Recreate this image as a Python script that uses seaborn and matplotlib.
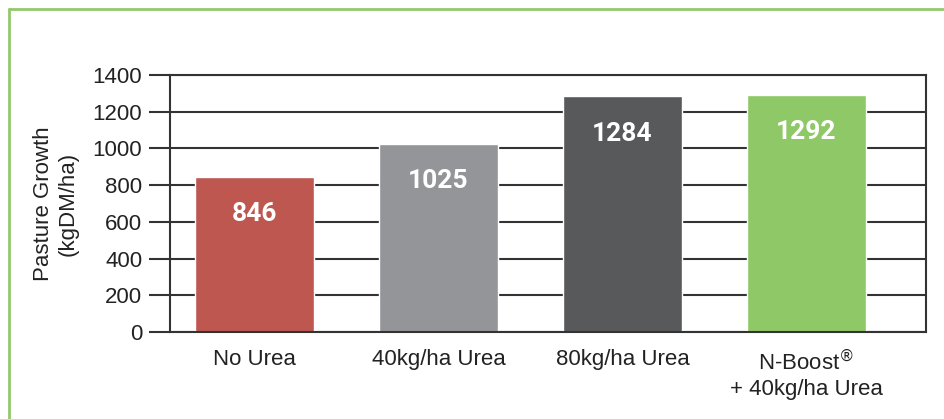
import matplotlib
matplotlib.use("Agg")
import matplotlib.pyplot as plt
import seaborn as sns
import pandas as pd
from matplotlib.lines import Line2D

# Datos
treatments = ["No Urea", "40kg/ha Urea", "80kg/ha Urea", "N-Boost®\n+ 40kg/ha Urea"]
growth = [846, 1025, 1284, 1292]
bar_colors = ["#bf5751", "#939598", "#58595b", "#8fc866"]
y_ticks = [0, 200, 400, 600, 800, 1000, 1200, 1400]

sns.set_theme(style="white")
plt.rcParams['font.family'] = ['Liberation Sans', 'DejaVu Sans']

df = pd.DataFrame({'tratamiento': treatments, 'crecimiento': growth})

fig = plt.figure(figsize=(9.44, 4.19), dpi=100)
ax = fig.add_axes([0.180, 0.2076, 0.801, 0.6134])

sns.barplot(data=df, x='tratamiento', y='crecimiento', hue='tratamiento',
            palette=bar_colors, width=0.65, saturation=1, legend=False, ax=ax)

ax.set_ylim(0, 1400)
ax.set_xlim(-0.46, 3.65)
ax.set_yticks(y_ticks)
ax.set_yticklabels([str(v) for v in y_ticks], fontsize=16, color='#222222')
ax.tick_params(axis='y', length=15, width=1.5, color='#333333', pad=5, left=True)
ax.set_xticks(range(len(treatments)))
ax.set_xticklabels([t.replace('®', r'$^{®}$') for t in treatments],
                   fontsize=16, color='#222222', linespacing=1.25)
ax.tick_params(axis='x', length=0, pad=12)
ax.yaxis.grid(True, color='#333333', linewidth=1.5)
ax.set_axisbelow(True)
for s in ['left', 'right', 'top', 'bottom']:
    ax.spines[s].set_visible(True)
    ax.spines[s].set_color('#333333')
    ax.spines[s].set_linewidth(1.5)

ax.set_xlabel('')
ax.set_ylabel('Pasture Growth\n(kgDM/ha)', fontsize=16, color='#222222',
              labelpad=10, linespacing=1.2)

# Valores dentro de las barras
for i, v in enumerate(growth):
    ax.annotate(str(v), xy=(i, v), xytext=(0, -27), textcoords='offset points',
                ha='center', va='center', color='white', fontsize=19,
                fontweight='bold', family=['Roboto', 'DejaVu Sans'])

# Marco verde
fig.add_artist(Line2D([9 / 944, 1.0], [1 - 9 / 419, 1 - 9 / 419],
                      transform=fig.transFigure, color='#93c96c', linewidth=2))
fig.add_artist(Line2D([9 / 944, 9 / 944], [0, 1 - 9 / 419],
                      transform=fig.transFigure, color='#93c96c', linewidth=2))

fig.savefig('out.png', dpi=100)
